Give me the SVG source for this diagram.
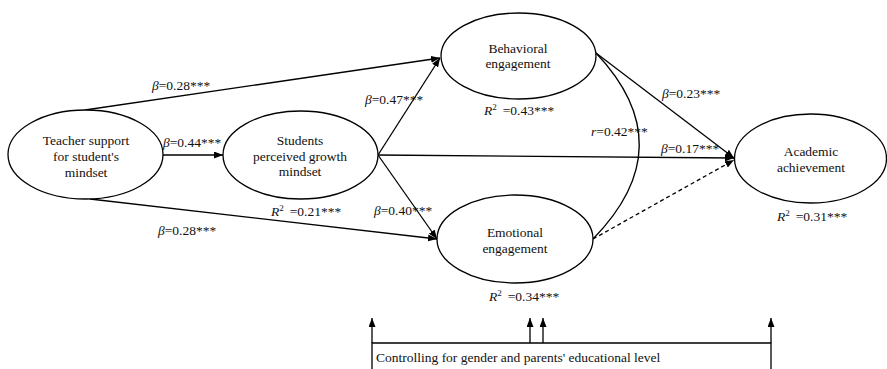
<svg xmlns="http://www.w3.org/2000/svg" width="887" height="369" viewBox="0 0 887 369">
<defs>
<marker id="ah" markerWidth="9" markerHeight="7" refX="9" refY="3.5" orient="auto" markerUnits="userSpaceOnUse">
<path d="M0,0 L9,3.5 L0,7 Z" fill="#000"/>
</marker>
<style>
text{font-family:"Liberation Serif","Times New Roman",serif;font-size:13.5px;fill:#111}
.n ellipse{fill:#fff;stroke:#000;stroke-width:1.3}
.n text{text-anchor:middle}
.c line,.c path{stroke:#000;stroke-width:1.3;fill:none}
.a{marker-end:url(#ah)}
.i{font-style:italic}
</style>
</defs>
<rect width="887" height="369" fill="#fff"/>
<g id="connectors" class="c">
<line class="a" x1="85" y1="110" x2="440" y2="58"/>
<line class="a" x1="163" y1="155" x2="223" y2="155"/>
<line class="a" x1="90" y1="199" x2="437" y2="239"/>
<line class="a" x1="378" y1="155" x2="440" y2="58"/>
<line class="a" x1="378" y1="155" x2="437" y2="239"/>
<line class="a" x1="378" y1="155" x2="734" y2="158"/>
<line class="a" x1="596" y1="53" x2="734" y2="158"/>
<line class="a" x1="593" y1="239" x2="734" y2="160" stroke-dasharray="4,3"/>
<path d="M596,53 Q684,146 593,239"/>
<line class="a" x1="372" y1="343" x2="372" y2="318"/>
<line class="a" x1="530" y1="343" x2="530" y2="318"/>
<line class="a" x1="543" y1="343" x2="543" y2="318"/>
<line class="a" x1="771" y1="343" x2="771" y2="318"/>
</g>
<g id="teacher" class="n">
<ellipse cx="85.5" cy="154.5" rx="77.5" ry="44.5"/>
<text x="86" y="145">Teacher support</text>
<text x="86" y="161">for student's</text>
<text x="86" y="177">mindset</text>
</g>
<g id="students" class="n">
<ellipse cx="300.5" cy="155" rx="77.5" ry="44"/>
<text x="300" y="145">Students</text>
<text x="300" y="161">perceived growth</text>
<text x="300" y="176">mindset</text>
</g>
<g id="behavioral" class="n">
<ellipse cx="518.5" cy="56" rx="77.5" ry="43"/>
<text x="518" y="53">Behavioral</text>
<text x="518" y="68">engagement</text>
</g>
<g id="emotional" class="n">
<ellipse cx="515" cy="239" rx="78" ry="44"/>
<text x="515" y="237">Emotional</text>
<text x="515" y="253">engagement</text>
</g>
<g id="academic" class="n">
<ellipse cx="810.5" cy="158.5" rx="76" ry="44.5"/>
<text x="811" y="156">Academic</text>
<text x="811" y="172">achievement</text>
</g>
<g id="control">
<path d="M372,375 L372,343 L771,343 L771,375" fill="none" stroke="#000" stroke-width="1.3"/>
<text x="376" y="362">Controlling for gender and parents' educational level</text>
</g>
<g id="labels">
<text x="152" y="90"><tspan class="i">β</tspan>=0.28***</text>
<text x="163" y="147"><tspan class="i">β</tspan>=0.44***</text>
<text x="158" y="235"><tspan class="i">β</tspan>=0.28***</text>
<text x="365" y="104"><tspan class="i">β</tspan>=0.47***</text>
<text x="374" y="215"><tspan class="i">β</tspan>=0.40***</text>
<text x="662" y="98"><tspan class="i">β</tspan>=0.23***</text>
<text x="661" y="153"><tspan class="i">β</tspan>=0.17***</text>
<text x="591" y="136"><tspan class="i">r</tspan>=0.42***</text>
<text x="271" y="216"><tspan class="i">R</tspan><tspan font-size="9" dy="-5">2</tspan><tspan dy="5" dx="6">=0.21***</tspan></text>
<text x="484" y="115"><tspan class="i">R</tspan><tspan font-size="9" dy="-5">2</tspan><tspan dy="5" dx="6">=0.43***</tspan></text>
<text x="489" y="301"><tspan class="i">R</tspan><tspan font-size="9" dy="-5">2</tspan><tspan dy="5" dx="6">=0.34***</tspan></text>
<text x="777" y="221"><tspan class="i">R</tspan><tspan font-size="9" dy="-5">2</tspan><tspan dy="5" dx="6">=0.31***</tspan></text>
</g>
</svg>
